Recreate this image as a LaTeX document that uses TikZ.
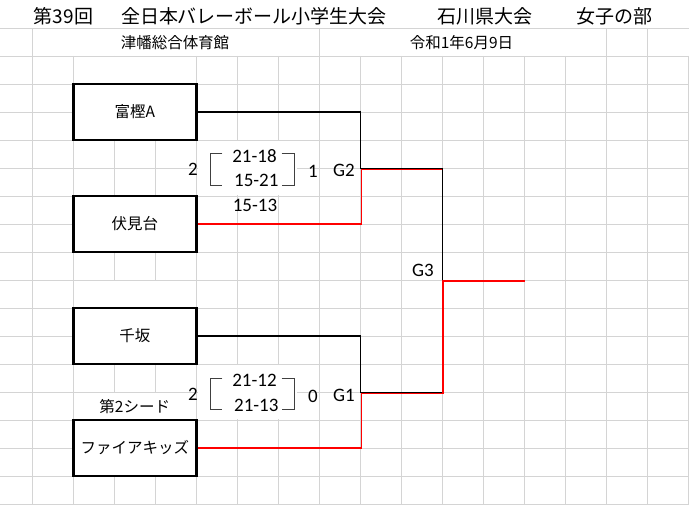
\documentclass[tikz,border=0pt]{standalone}
\usepackage{fontspec}
\newfontfamily\jpfont{Noto Sans CJK JP}
\newfontfamily\numfont{Carlito}
\definecolor{gridgray}{HTML}{D4D4D4}
\definecolor{brkgray}{HTML}{404040}
\begin{document}
\begin{tikzpicture}[x=1pt,y=-1pt,
  gridl/.style={draw=gridgray,line width=0.9pt},
  teambox/.style={draw=black,line width=2.6pt,fill=white,minimum width=123pt,minimum height=56pt,inner sep=0pt,font=\jpfont\fontsize{15.5}{16}\selectfont},
  conn/.style={draw=black,line width=1.1pt},
  win/.style={draw=red,line width=1.1pt},
  jtxt/.style={inner sep=0pt,font=\jpfont\fontsize{15.5}{17}\selectfont},
  ttl/.style={inner sep=0pt,font=\jpfont\fontsize{19}{20}\selectfont},
  num/.style={inner sep=0pt,font=\numfont\fontsize{19}{20}\selectfont},
  brk/.style={draw=brkgray,line width=1pt}]
\useasboundingbox (0,0) rectangle (689,505);
\fill[white] (0,0) rectangle (689,505);
% grid
\foreach \j in {1,...,18} \draw[gridl] (0,{28*\j}) -- (689,{28*\j});
\foreach \k in {0,...,16} \draw[gridl] ({32.7+41*\k},56) -- ({32.7+41*\k},505);
\foreach \k in {0,7,14,15} \draw[gridl] ({32.7+41*\k},28) -- ({32.7+41*\k},56);
\foreach \y in {56,280,392} \fill[white] (74.5,{\y+0.6}) rectangle (195.2,{\y+27.4});
\fill[white] (197.5,140.6) rectangle (296.5,195.4);
\fill[white] (197.5,364.6) rectangle (296.5,419.4);
% titles
\node[ttl] (h1) at (63.5,16) {第39回};
\node[ttl] (h2) at (254,16) {全日本バレーボール小学生大会};
\node[ttl] (h3) at (484.5,16) {石川県大会};
\node[ttl] (h4) at (614,16) {女子の部};
\node[jtxt] (venue) at (175,43) {津幡総合体育館};
\node[jtxt] (date) at (461.5,43) {令和1年6月9日};
% teams
\node[teambox] (t1) at (134.8,112) {富樫A};
\node[teambox] (t2) at (134.8,224) {伏見台};
\node[teambox] (t3) at (134.8,336) {千坂};
\node[teambox] (t4) at (134.8,448) {ファイアキッズ};
\node[jtxt] (seed) at (134.8,406.5) {第2シード};
% connector points
\coordinate (g2) at (360.7,168.5);
\coordinate (g1) at (360.7,392.3);
\coordinate (g3t) at (442.3,168.5);
\coordinate (g3b) at (442.3,392.3);
\coordinate (g2r) at (361.4,169.5);
\coordinate (g3tr) at (442.3,169.5);
\coordinate (g1r) at (361.4,393.3);
\coordinate (g3br) at (443,393.3);
\coordinate (g3r) at (443,281);
\coordinate (fin) at (524.5,281);
\draw[conn] (t1.east) -| (g2) -- (g3t) -- (g3b) -- (g1) |- (t3.east);
\draw[win] (t2.east) -| (g2r) -- (g3tr);
\draw[win] (t4.east) -| (g1r) -- (g3br) -- (g3r) -- (fin);
% scores G2
\node[num] (a1) at (193,169.5) {2};
\node[num] (a2) at (254.5,155.8) {21-18};
\node[num] (a3) at (256.3,180) {15-21};
\node[num] (a4) at (313,171) {1};
\node[num] (a5) at (344,170) {G2};
\node[num] (a6) at (255,205) {15-13};
\draw[brk] (222.3,153.3) -- (210.7,153.3) -- (210.7,185.7) -- (222.3,185.7);
\draw[brk] (281.7,153.3) -- (294.3,153.3) -- (294.3,185.7) -- (281.7,185.7);
% scores G1
\node[num] (b1) at (193,394) {2};
\node[num] (b2) at (254.5,380.8) {21-12};
\node[num] (b3) at (256.3,405) {21-13};
\node[num] (b4) at (313,396) {0};
\node[num] (b5) at (344,395) {G1};
\node[num] (g3lab) at (423,270) {G3};
\draw[brk] (222.3,378.3) -- (210.7,378.3) -- (210.7,410) -- (222.3,410);
\draw[brk] (281.7,378.3) -- (294.3,378.3) -- (294.3,410) -- (281.7,410);
\end{tikzpicture}
\end{document}
